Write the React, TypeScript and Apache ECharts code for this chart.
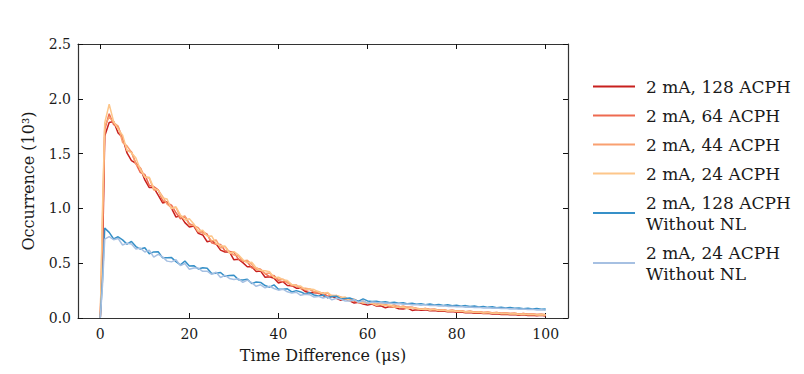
import React, { useEffect, useRef } from "react";
import * as echarts from "echarts";

const times: number[] = [
  0, 0.5,
  1, 2, 3, 4, 5, 6, 7, 8, 9, 10,
  11, 12, 13, 14, 15, 16, 17, 18, 19, 20,
  21, 22, 23, 24, 25, 26, 27, 28, 29, 30,
  31, 32, 33, 34, 35, 36, 37, 38, 39, 40,
  41, 42, 43, 44, 45, 46, 47, 48, 49, 50,
  51, 52, 53, 54, 55, 56, 57, 58, 59, 60,
  61, 62, 63, 64, 65, 66, 67, 68, 69, 70,
  71, 72, 73, 74, 75, 76, 77, 78, 79, 80,
  81, 82, 83, 84, 85, 86, 87, 88, 89, 90,
  91, 92, 93, 94, 95, 96, 97, 98, 99, 100,
];

const acph128: number[] = [
  0, 0.55,
  1.66, 1.784, 1.792, 1.688, 1.646, 1.506, 1.436, 1.412, 1.366, 1.26,
  1.19, 1.19, 1.12, 1.05, 1.06, 1.0, 0.92, 0.935, 0.87, 0.83,
  0.839, 0.772, 0.758, 0.696, 0.706, 0.676, 0.619, 0.602, 0.604, 0.531,
  0.536, 0.505, 0.468, 0.467, 0.424, 0.428, 0.372, 0.376, 0.362, 0.32,
  0.332, 0.296, 0.295, 0.272, 0.273, 0.242, 0.231, 0.233, 0.231, 0.205,
  0.187, 0.197, 0.179, 0.162, 0.173, 0.156, 0.136, 0.143, 0.127, 0.118,
  0.127, 0.11, 0.111, 0.094, 0.104, 0.1, 0.084, 0.083, 0.091, 0.069,
  0.076, 0.071, 0.074, 0.065, 0.068, 0.061, 0.064, 0.056, 0.059, 0.052,
  0.055, 0.047, 0.051, 0.044, 0.046, 0.04, 0.043, 0.036, 0.039, 0.033,
  0.035, 0.029, 0.032, 0.026, 0.029, 0.023, 0.026, 0.021, 0.024, 0.019,
];

const acph64: number[] = [
  0, 0.7,
  1.72, 1.864, 1.764, 1.744, 1.642, 1.526, 1.516, 1.408, 1.326, 1.31,
  1.21, 1.2, 1.17, 1.07, 1.05, 1.03, 0.96, 0.905, 0.93, 0.86,
  0.843, 0.784, 0.786, 0.764, 0.686, 0.672, 0.671, 0.614, 0.608, 0.599,
  0.538, 0.519, 0.512, 0.457, 0.456, 0.442, 0.404, 0.378, 0.388, 0.34,
  0.332, 0.328, 0.291, 0.296, 0.277, 0.254, 0.263, 0.237, 0.223, 0.229,
  0.199, 0.205, 0.203, 0.174, 0.173, 0.171, 0.154, 0.14, 0.151, 0.133,
  0.133, 0.119, 0.126, 0.124, 0.101, 0.103, 0.108, 0.092, 0.097, 0.099,
  0.086, 0.083, 0.087, 0.077, 0.08, 0.072, 0.075, 0.066, 0.07, 0.063,
  0.066, 0.058, 0.061, 0.054, 0.058, 0.05, 0.053, 0.047, 0.05, 0.043,
  0.046, 0.04, 0.043, 0.037, 0.04, 0.034, 0.037, 0.031, 0.034, 0.029,
];

const acph44: number[] = [
  0, 0.9,
  1.75, 1.836, 1.784, 1.752, 1.602, 1.57, 1.512, 1.404, 1.37, 1.288,
  1.278, 1.168, 1.168, 1.108, 1.038, 1.008, 1.008, 0.923, 0.928, 0.848,
  0.843, 0.824, 0.77, 0.756, 0.702, 0.712, 0.639, 0.654, 0.6, 0.575,
  0.57, 0.521, 0.526, 0.489, 0.44, 0.444, 0.406, 0.41, 0.378, 0.354,
  0.354, 0.322, 0.301, 0.302, 0.267, 0.272, 0.265, 0.239, 0.241, 0.223,
  0.229, 0.195, 0.205, 0.192, 0.171, 0.168, 0.172, 0.149, 0.154, 0.133,
  0.136, 0.137, 0.123, 0.124, 0.11, 0.121, 0.099, 0.11, 0.097, 0.093,
  0.09, 0.083, 0.086, 0.077, 0.081, 0.072, 0.076, 0.067, 0.071, 0.063,
  0.066, 0.058, 0.062, 0.054, 0.057, 0.05, 0.054, 0.046, 0.05, 0.043,
  0.046, 0.04, 0.043, 0.037, 0.04, 0.034, 0.037, 0.032, 0.034, 0.03,
];

const acph24: number[] = [
  0, 1.0,
  1.78, 1.95, 1.791, 1.723, 1.669, 1.529, 1.507, 1.459, 1.353, 1.285,
  1.285, 1.185, 1.165, 1.095, 1.085, 0.995, 1.015, 0.94, 0.895, 0.905,
  0.858, 0.791, 0.801, 0.747, 0.749, 0.679, 0.662, 0.653, 0.591, 0.606,
  0.577, 0.534, 0.503, 0.508, 0.459, 0.433, 0.431, 0.423, 0.367, 0.373,
  0.35, 0.342, 0.305, 0.294, 0.291, 0.26, 0.265, 0.259, 0.237, 0.223,
  0.233, 0.203, 0.205, 0.188, 0.191, 0.156, 0.166, 0.146, 0.136, 0.142,
  0.133, 0.116, 0.126, 0.112, 0.119, 0.1, 0.099, 0.101, 0.085, 0.096,
  0.084, 0.08, 0.082, 0.074, 0.077, 0.069, 0.071, 0.064, 0.066, 0.059,
  0.062, 0.055, 0.057, 0.05, 0.053, 0.046, 0.049, 0.043, 0.045, 0.039,
  0.042, 0.036, 0.038, 0.033, 0.035, 0.03, 0.032, 0.028, 0.029, 0.026,
];

const acph128NoNL: number[] = [
  0, 0.35,
  0.82, 0.781, 0.721, 0.741, 0.713, 0.674, 0.699, 0.652, 0.629, 0.641,
  0.586, 0.603, 0.604, 0.549, 0.55, 0.551, 0.514, 0.485, 0.52, 0.475,
  0.477, 0.447, 0.459, 0.454, 0.407, 0.408, 0.415, 0.38, 0.388, 0.39,
  0.35, 0.346, 0.354, 0.314, 0.328, 0.324, 0.296, 0.281, 0.302, 0.263,
  0.262, 0.266, 0.238, 0.25, 0.238, 0.219, 0.232, 0.21, 0.2, 0.21,
  0.185, 0.196, 0.199, 0.174, 0.178, 0.182, 0.166, 0.154, 0.175, 0.156,
  0.15, 0.153, 0.143, 0.148, 0.139, 0.143, 0.134, 0.139, 0.129, 0.134,
  0.126, 0.131, 0.122, 0.127, 0.118, 0.123, 0.115, 0.12, 0.111, 0.116,
  0.108, 0.113, 0.104, 0.109, 0.101, 0.106, 0.097, 0.102, 0.094, 0.099,
  0.091, 0.096, 0.088, 0.092, 0.085, 0.089, 0.082, 0.086, 0.079, 0.083,
];

const acph24NoNL: number[] = [
  0, 0.3,
  0.72, 0.742, 0.714, 0.726, 0.666, 0.683, 0.676, 0.629, 0.638, 0.602,
  0.619, 0.556, 0.581, 0.558, 0.519, 0.512, 0.531, 0.478, 0.497, 0.444,
  0.456, 0.456, 0.426, 0.427, 0.398, 0.417, 0.37, 0.389, 0.361, 0.351,
  0.359, 0.325, 0.345, 0.323, 0.289, 0.303, 0.275, 0.29, 0.269, 0.254,
  0.263, 0.239, 0.227, 0.235, 0.207, 0.216, 0.213, 0.191, 0.197, 0.183,
  0.194, 0.165, 0.18, 0.171, 0.155, 0.155, 0.167, 0.143, 0.156, 0.133,
  0.146, 0.141, 0.139, 0.134, 0.137, 0.129, 0.132, 0.125, 0.128, 0.12,
  0.123, 0.117, 0.12, 0.113, 0.116, 0.109, 0.112, 0.106, 0.108, 0.102,
  0.105, 0.099, 0.101, 0.095, 0.098, 0.092, 0.094, 0.089, 0.091, 0.086,
  0.088, 0.083, 0.085, 0.08, 0.082, 0.077, 0.079, 0.074, 0.076, 0.071,
];

const seriesNames: string[] = [
  "2 mA, 128 ACPH",
  "2 mA, 64 ACPH",
  "2 mA, 44 ACPH",
  "2 mA, 24 ACPH",
  "2 mA, 128 ACPH\nWithout NL",
  "2 mA, 24 ACPH\nWithout NL",
];
const seriesValues: number[][] = [acph128, acph64, acph44, acph24, acph128NoNL, acph24NoNL];
const seriesColors: string[] = ["#c8201e", "#ee6a50", "#f9a070", "#fdc68a", "#3690c8", "#a6c0e2"];

const xTicks: number[] = [0, 20, 40, 60, 80, 100];

const FONT = "DejaVu Serif";
const TEXT = "#1a1a1a";

export default function App() {
  const ref = useRef<HTMLDivElement>(null);
  useEffect(() => {
    if (!ref.current) return;
    const chart = echarts.init(ref.current, undefined, { renderer: "svg" });
    const axisLine = { show: true, onZero: false, lineStyle: { color: "#333", width: 1.2 } };
    const tick = { show: true, inside: true, length: 5, lineStyle: { color: "#111", width: 1 } };
    chart.setOption({
      animation: false,
      backgroundColor: "#fff",
      grid: { left: 78, right: 236, top: 44, bottom: 56, containLabel: false },
      legend: {
        orient: "vertical",
        left: 588,
        top: 71,
        icon: "rect",
        itemWidth: 42,
        itemHeight: 2,
        itemGap: 8,
        data: seriesNames,
        textStyle: {
          fontFamily: FONT,
          fontSize: 17,
          color: TEXT,
          lineHeight: 21,
          padding: [0, 0, 0, 6],
        },
      },
      xAxis: [
        {
          type: "value",
          min: -5,
          max: 105,
          position: "bottom",
          name: "Time Difference (μs)",
          nameLocation: "middle",
          nameGap: 29,
          nameTextStyle: { fontFamily: FONT, fontSize: 16, color: TEXT },
          axisLine,
          axisTick: { ...tick, customValues: xTicks },
          axisLabel: {
            customValues: xTicks,
            fontFamily: FONT,
            fontSize: 14,
            color: TEXT,
            margin: 9,
          },
          splitLine: { show: false },
        },
        {
          type: "value",
          min: -5,
          max: 105,
          position: "top",
          axisLine,
          axisTick: { ...tick, customValues: xTicks },
          axisLabel: { show: false },
          splitLine: { show: false },
        },
      ],
      yAxis: [
        {
          type: "value",
          min: 0,
          max: 2.5,
          interval: 0.5,
          position: "left",
          name: "Occurrence (10³)",
          nameLocation: "middle",
          nameGap: 42,
          nameTextStyle: { fontFamily: FONT, fontSize: 16, color: TEXT },
          axisLine,
          axisTick: tick,
          axisLabel: {
            fontFamily: FONT,
            fontSize: 14,
            color: TEXT,
            margin: 7,
            formatter: (v: number) => v.toFixed(1),
          },
          splitLine: { show: false },
        },
        {
          type: "value",
          min: 0,
          max: 2.5,
          interval: 0.5,
          position: "right",
          axisLine,
          axisTick: tick,
          axisLabel: { show: false },
          splitLine: { show: false },
        },
      ],
      series: seriesNames.map((n, i) => ({
        type: "line",
        name: n,
        xAxisIndex: 0,
        yAxisIndex: 0,
        showSymbol: false,
        symbol: "none",
        color: seriesColors[i],
        itemStyle: { color: seriesColors[i] },
        lineStyle: { color: seriesColors[i], width: 1.5 },
        data: times.map((t, j) => [t, seriesValues[i][j]]),
      })),
    });
    return () => chart.dispose();
  }, []);
  return (
    <div
      ref={ref}
      style={{ position: "absolute", left: 0, top: 0, width: 804, height: 374 }}
    />
  );
}
